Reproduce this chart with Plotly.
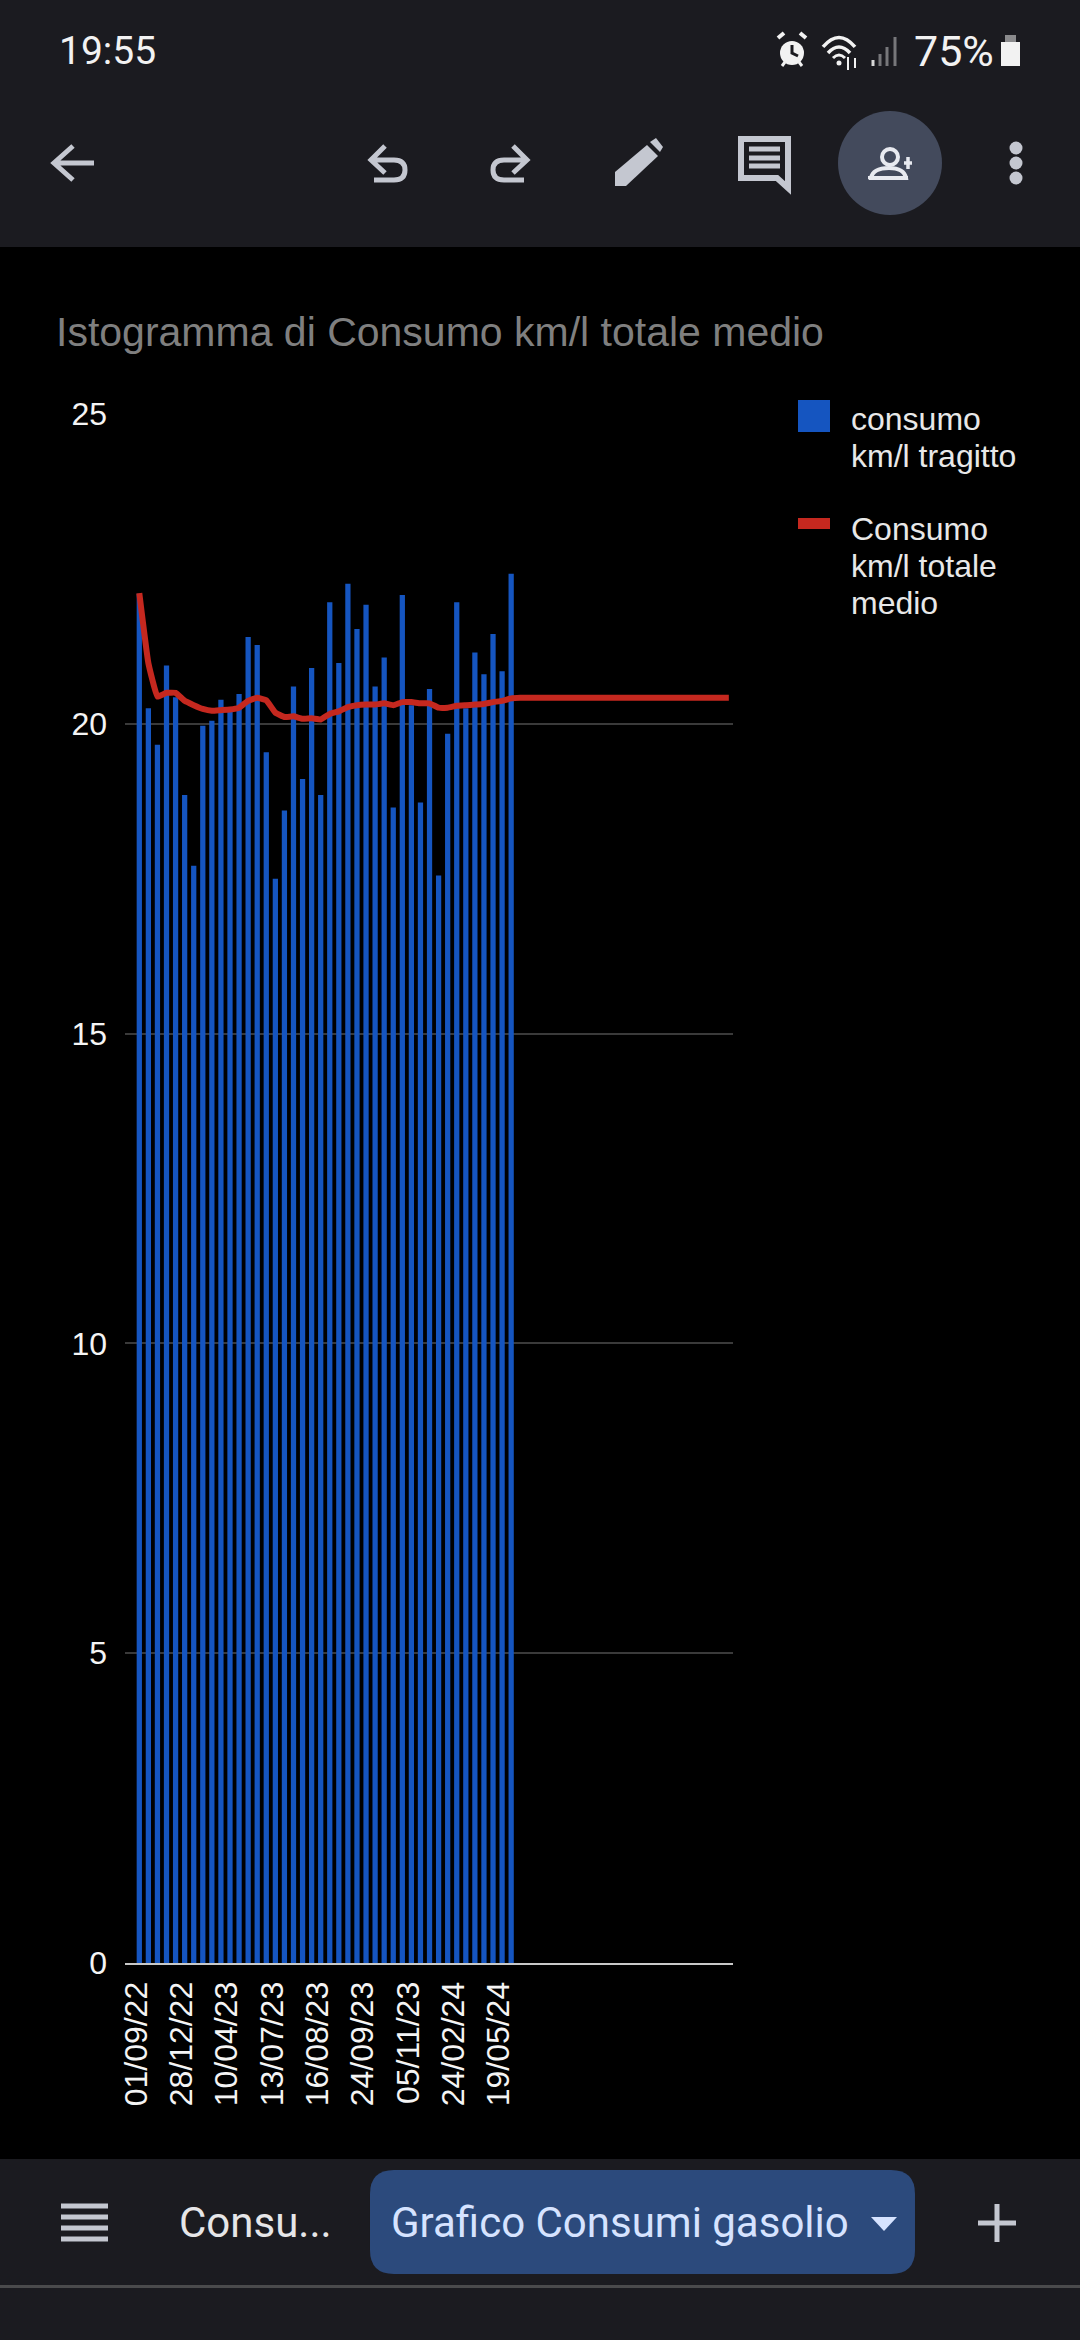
import re
import plotly.graph_objects as go

W, H = 1080, 2340
PLOT_L, PLOT_R, PLOT_T, PLOT_B = 125, 733, 414, 1963

# ---------- chart data ----------
title = "Istogramma di Consumo km/l totale medio"
consumo_tragitto = [22.10, 20.25, 19.66, 20.94, 20.43, 18.85, 17.71, 19.97, 20.05, 20.39,
                    20.22, 20.48, 21.40, 21.27, 19.54, 17.50, 18.60, 20.60, 19.11, 20.90,
                    18.85, 21.96, 20.98, 22.26, 21.53, 21.92, 20.60, 21.07, 18.65, 22.08,
                    20.30, 18.73, 20.56, 17.55, 19.84, 21.96, 20.25, 21.15, 20.80, 21.45,
                    20.85, 22.42]
consumo_medio = [22.11, 20.98, 20.44, 20.50, 20.50, 20.37, 20.30, 20.24, 20.21, 20.22,
                 20.23, 20.26, 20.37, 20.42, 20.38, 20.18, 20.11, 20.12, 20.08, 20.09,
                 20.07, 20.16, 20.20, 20.27, 20.30, 20.31, 20.31, 20.33, 20.30, 20.35,
                 20.35, 20.33, 20.33, 20.26, 20.26, 20.29, 20.30, 20.31, 20.32, 20.35,
                 20.37, 20.41, 20.42, 20.42, 20.42, 20.42, 20.42, 20.42, 20.42, 20.42,
                 20.42, 20.42, 20.42, 20.42, 20.42, 20.42, 20.42, 20.42, 20.42, 20.42,
                 20.42, 20.42, 20.42, 20.42, 20.42, 20.42]
tick_positions = [0, 5, 10, 15, 20, 25, 30, 35, 40]
tick_labels = ["01/09/22", "28/12/22", "10/04/23", "13/07/23", "16/08/23",
               "24/09/23", "05/11/23", "24/02/24", "19/05/24"]
y_ticks = [0, 5, 10, 15, 20, 25]

BLUE, RED = "#1555c0", "#c5281f"
BAR_BG = "#1b1b20"
ICON = "#c4c7d0"
CHART_FONT = "Liberation Sans"
UI_FONT = "Roboto"


def fx(v):
    return (float(v) - PLOT_L) / (PLOT_R - PLOT_L)


def fy(v):
    return (PLOT_B - float(v)) / (PLOT_B - PLOT_T)


def path(d):
    """Pixel-space SVG path (absolute M/L/Q/C/Z) to paper coordinates."""
    out, is_x = [], True
    for tok in re.findall(r"[A-Za-z]|-?\d+\.?\d*", d):
        if tok.isalpha():
            out.append(tok)
            is_x = True
        else:
            out.append(f"{fx(tok):.5f}" if is_x else f"{fy(tok):.5f}")
            is_x = not is_x
    return " ".join(out)


shapes, annos = [], []


def rect(x0, y0, x1, y1, color):
    shapes.append(dict(type="rect", xref="paper", yref="paper", x0=fx(x0), x1=fx(x1),
                       y0=fy(y1), y1=fy(y0), fillcolor=color, line_width=0, layer="above"))


def circle(cx, cy, r, color):
    shapes.append(dict(type="circle", xref="paper", yref="paper", x0=fx(cx - r), x1=fx(cx + r),
                       y0=fy(cy + r), y1=fy(cy - r), fillcolor=color, line_width=0, layer="above"))


def stroke(d, color=ICON, width=5):
    shapes.append(dict(type="path", xref="paper", yref="paper", path=path(d),
                       line=dict(color=color, width=width), layer="above"))


def fill(d, color=ICON):
    shapes.append(dict(type="path", xref="paper", yref="paper", path=path(d),
                       fillcolor=color, line_width=0, layer="above"))


def text(x, y, s, size, color, font=UI_FONT, anchor="left"):
    annos.append(dict(xref="paper", yref="paper", x=fx(x), y=fy(y), text=s, showarrow=False,
                      xanchor=anchor, yanchor="middle", xshift=0, borderpad=0, borderwidth=0,
                      font=dict(family=font, size=size, color=color)))


# ---------- app chrome ----------
rect(0, 0, W, 247, BAR_BG)
rect(0, 2159, W, H, BAR_BG)
rect(0, 2285, W, 2288, "#4a4a4c")

text(59, 51, "19:55", 39, "#f2f2f2")
text(914, 51, "75%", 43, "#f2f2f2")
# alarm
circle(792, 53, 12, "#f2f2f2")
stroke("M792 45 L792 53 L798 56", BAR_BG, 3)
stroke("M778 38 L784 33", "#f2f2f2", 4)
stroke("M806 38 L800 33", "#f2f2f2", 4)
stroke("M782 66 L785 62", "#f2f2f2", 3)
stroke("M802 66 L799 62", "#f2f2f2", 3)
# wifi
stroke("M823 47 Q839 28 855 47", "#f2f2f2", 3.5)
stroke("M828 53 Q839 41 850 53", "#f2f2f2", 3.5)
stroke("M833 58 Q839 52 845 58", "#f2f2f2", 3)
circle(839, 63, 2.5, "#f2f2f2")
stroke("M848 70 L848 57", "#f2f2f2", 2)
stroke("M855 68 L855 58", "#f2f2f2", 2)
# signal
for sx, top, col in [(873, 60, "#d8d8d8"), (880, 54, "#77777a"), (887, 47, "#77777a"), (895, 37, "#77777a")]:
    rect(sx - 1.5, top, sx + 1.5, 66, col)
# battery
rect(1005, 35, 1016, 42, "#8a8a8c")
rect(1001, 42, 1020, 66, "#f2f2f2")

# back arrow
stroke("M94 163 L54 163 M73 146 L54 163 L73 180", ICON, 5)
# undo
stroke("M385 146 L371 160 L385 173 M371 160 L394 160 Q405 160 405 170 Q405 180 394 180 L374 180", ICON, 5)
# redo
stroke("M513 146 L527 160 L513 173 M527 160 L504 160 Q493 160 493 170 Q493 180 504 180 L524 180", ICON, 5)
# pencil
fill("M615 186 L615 172 L647 145 L658 156 L626 186 Z")
fill("M650 142 L656 138 L663 147 L660 152 Z")
# comment
stroke("M741 139 L788 139 L788 188 L777 178 L741 178 Z", ICON, 6)
for cy_ in (149, 158, 166):
    rect(749, cy_ - 2.5, 780, cy_ + 2.5, ICON)
# add person
circle(890, 163, 52, "#434a5c")
shapes.append(dict(type="circle", xref="paper", yref="paper", x0=fx(882), x1=fx(898),
                   y0=fy(165), y1=fy(149), line=dict(color="#e8eaf0", width=4),
                   fillcolor="rgba(0,0,0,0)", layer="above"))
stroke("M871 178 Q873 168 889 168 Q904 168 906 178 Z", "#e8eaf0", 4)
rect(868, 176, 908, 179, "#e8eaf0")
stroke("M904 163 L912 163 M908 157 L908 169", "#e8eaf0", 3.5)
# kebab
for cy_ in (148, 163, 178):
    circle(1016, cy_, 6.5, ICON)

# bottom tab bar
for cy_ in (2206, 2217, 2228, 2239):
    rect(61, cy_ - 2.5, 108, cy_ + 2.5, ICON)
text(179, 2222, "Consu...", 42, "#e6e6e8")
fill("M394 2170 L891 2170 Q915 2170 915 2194 L915 2250 Q915 2274 891 2274 L394 2274 "
     "Q370 2274 370 2250 L370 2194 Q370 2170 394 2170 Z", "#2c4a7c")
text(391, 2222, "Grafico Consumi gasolio", 42, "#d6e3ff")
fill("M871 2217 L897 2217 L884 2231 Z", "#d6e3ff")
stroke("M978 2223 L1016 2223 M997 2204 L997 2242", ICON, 5)

# ---------- chart title and legend ----------
text(56, 332, title, 41, "#7f7f7f", CHART_FONT)
rect(798, 400, 830, 432, BLUE)
rect(798, 518, 830, 529, RED)
for ly, line in [(419, "consumo"), (456, "km/l tragitto"),
                 (529, "Consumo"), (566, "km/l totale"), (603, "medio")]:
    text(851, ly, line, 32, "#e8e8e8", CHART_FONT)

fig = go.Figure()
fig.add_bar(x=list(range(len(consumo_tragitto))), y=consumo_tragitto,
            name="consumo km/l tragitto", marker=dict(color=BLUE, line_width=0), width=0.58)
fig.add_scatter(x=list(range(len(consumo_medio))), y=consumo_medio, mode="lines",
                name="Consumo km/l totale medio",
                line=dict(color=RED, width=6, shape="spline", smoothing=0.3))

fig.update_layout(
    width=W, height=H, autosize=False,
    margin=dict(l=PLOT_L, r=W - PLOT_R, t=PLOT_T, b=H - PLOT_B, pad=0),
    paper_bgcolor="#000000", plot_bgcolor="#000000",
    showlegend=False, shapes=shapes, annotations=annos,
    font=dict(family=CHART_FONT, color="#ffffff", size=32),
    xaxis=dict(range=[-1.577, 65.46], tickmode="array", tickvals=tick_positions, ticktext=tick_labels,
               tickangle=-90, ticks="", showgrid=False, zeroline=False, showline=True,
               linecolor="#c8c8c8", linewidth=2, ticklabelstandoff=4, ticklabelshift=-3,
               tickfont=dict(family=CHART_FONT, size=32, color="#f4f4f4")),
    yaxis=dict(range=[0, 25], tickmode="array", tickvals=y_ticks, ticks="", zeroline=False,
               showgrid=True, gridcolor="#3a3a3a", gridwidth=2, ticklabelstandoff=17,
               tickfont=dict(family=CHART_FONT, size=32, color="#f4f4f4")),
)

fig.write_html("out.html", config=dict(displayModeBar=False),
               post_script="document.body.style.margin='0';document.body.style.overflow='hidden';")
